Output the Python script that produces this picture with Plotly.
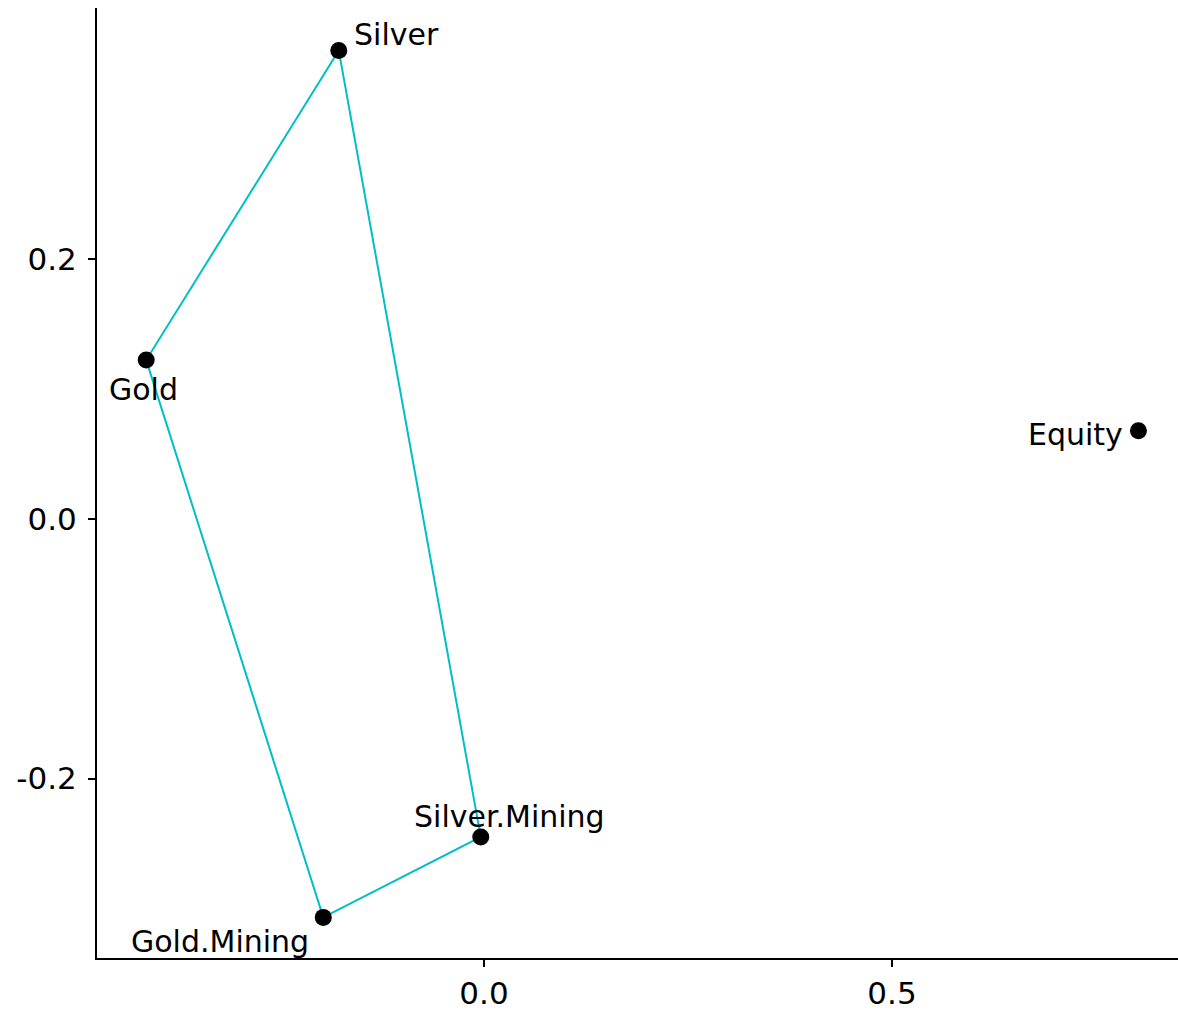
import plotly.graph_objects as go

# Asset coordinates on the two principal dimensions
assets = ["Silver", "Gold", "Equity", "Silver.Mining", "Gold.Mining"]
dim1 = [-0.178, -0.414, 0.802, -0.004, -0.197]
dim2 = [0.361, 0.1225, 0.068, -0.245, -0.307]

# Cluster outline (convex hull of the precious-metals group)
hull_order = ["Silver", "Gold", "Gold.Mining", "Silver.Mining", "Silver"]

x_ticks = [0.0, 0.5]
x_tick_text = ["0.0", "0.5"]
y_ticks = [-0.2, 0.0, 0.2]
y_tick_text = ["-0.2", "0.0", "0.2"]

# label offsets in pixels (dx, dy) relative to each point
label_shift = {
    "Silver": (58, 16),
    "Gold": (-3, -29),
    "Equity": (-63, -4),
    "Silver.Mining": (29, 20),
    "Gold.Mining": (-103, -24),
}

FONT = "DejaVu Sans, Arial, sans-serif"

idx = {n: i for i, n in enumerate(assets)}
hx = [dim1[idx[n]] for n in hull_order]
hy = [dim2[idx[n]] for n in hull_order]

fig = go.Figure()
fig.add_trace(go.Scatter(
    x=hx, y=hy, mode="lines",
    line=dict(color="#00BFC4", width=2),
    hoverinfo="skip", showlegend=False,
))
fig.add_trace(go.Scatter(
    x=dim1, y=dim2, mode="markers", text=assets,
    marker=dict(color="black", size=17),
    showlegend=False,
))

for n, x, y in zip(assets, dim1, dim2):
    dx, dy = label_shift[n]
    fig.add_annotation(
        x=x, y=y, text=n, showarrow=False,
        xshift=dx, yshift=dy,
        font=dict(family=FONT, size=30, color="black"),
    )

axis_common = dict(
    showgrid=False, zeroline=False,
    showline=True, linecolor="black", linewidth=2,
    ticks="outside", ticklen=7, tickwidth=2, tickcolor="black",
    tickfont=dict(family=FONT, size=31, color="black"),
)

fig.update_layout(
    width=1178, height=1010,
    margin=dict(l=97, r=0, t=8, b=52),
    plot_bgcolor="white", paper_bgcolor="white",
    xaxis=dict(range=[-0.4743, 0.8505], tickvals=x_ticks, ticktext=x_tick_text, **axis_common),
    yaxis=dict(range=[-0.3383, 0.3938], tickvals=y_ticks, ticktext=y_tick_text,
               ticklabelstandoff=5, **axis_common),
)

fig.write_html("out.html")
